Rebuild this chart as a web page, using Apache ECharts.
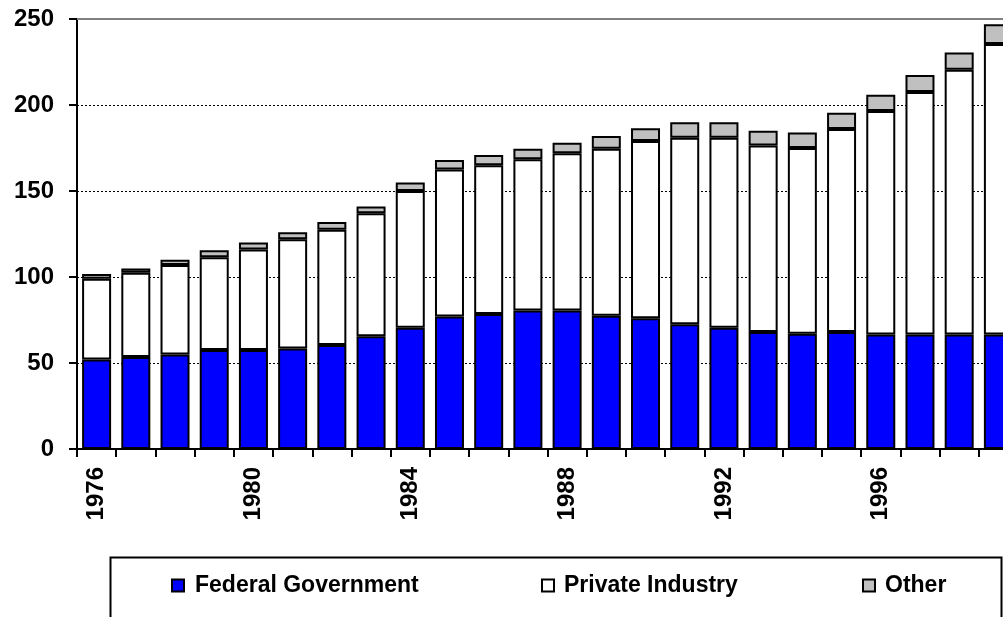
<!DOCTYPE html>
<html>
<head>
<meta charset="utf-8">
<script src="https://cdn.jsdelivr.net/npm/echarts@6/dist/echarts.min.js"></script>
<style>
  html, body { margin: 0; padding: 0; background: #fff; overflow: hidden; width: 1003px; height: 617px; }
  #chart { width: 1018px; height: 617px; }
</style>
</head>
<body>
<div id="chart"></div>
<script>
const years = ['1976','1977','1978','1979','1980','1981','1982','1983','1984','1985','1986','1987',
               '1988','1989','1990','1991','1992','1993','1994','1995','1996','1997','1998','1999'];
const federal = [52, 53.5, 55, 57.5, 57.5, 58.5, 60.5, 65.5, 70.5, 77, 78.5, 80.5,
                 80.5, 77.5, 76, 72.5, 70.5, 68, 67, 68, 66.5, 66.5, 66.5, 66.5];
const privateIndustry = [47, 49, 52, 54, 58.5, 63.5, 67, 71.5, 79.5, 85.5, 86.5, 88,
                         91.5, 97, 103, 108.5, 110.5, 108.5, 108, 118, 130, 141, 154, 169];
const other = [2.7, 2.5, 3, 4, 4, 4, 4.5, 4, 5, 5.5, 6, 6,
               6, 7.5, 7.5, 9, 9, 8.5, 9, 9.5, 9.5, 10, 10, 11.5];
const yTicks = [0, 50, 100, 150, 200, 250];

const FONT = "'Liberation Sans', Arial, sans-serif";
const chart = echarts.init(document.getElementById('chart'), null, { renderer: 'canvas' });

const barBorder = { borderColor: '#000', borderWidth: 2 };
const legendText = { fontSize: 23, fontWeight: 'bold', color: '#000', fontFamily: FONT };

const option = {
  animation: false,
  textStyle: { fontFamily: FONT },
  grid: { left: 77, top: 19, right: 0, bottom: 168, containLabel: false },
  xAxis: {
    type: 'category',
    data: years,
    boundaryGap: true,
    axisLine: { lineStyle: { color: '#000', width: 2 } },
    axisTick: { show: true, alignWithLabel: false, interval: 0, length: 8, lineStyle: { color: '#000', width: 2 } },
    axisLabel: {
      interval: 3, rotate: 90, margin: 18,
      fontSize: 24, fontWeight: 'bold', color: '#000', fontFamily: FONT
    },
    splitLine: { show: false }
  },
  yAxis: {
    type: 'value',
    min: yTicks[0], max: yTicks[yTicks.length - 1], interval: 50,
    axisLine: { show: true, lineStyle: { color: '#000', width: 2 } },
    axisTick: { show: true, length: 8, lineStyle: { color: '#000', width: 2 } },
    axisLabel: { margin: 23, fontSize: 24, fontWeight: 'bold', color: '#000', fontFamily: FONT },
    splitLine: { show: true, lineStyle: { color: '#000', width: 1, type: [2, 2] } }
  },
  legend: [
    { data: ['Federal Government'], icon: 'rect', left: 171, top: 574, padding: 0, itemWidth: 12, itemHeight: 12,
      textStyle: Object.assign({ padding: [0, 0, 0, 6] }, legendText) },
    { data: ['Private Industry'], icon: 'rect', left: 541, top: 574, padding: 0, itemWidth: 12, itemHeight: 12,
      textStyle: Object.assign({ padding: [0, 0, 0, 5] }, legendText) },
    { data: ['Other'], icon: 'rect', left: 862, top: 574, padding: 0, itemWidth: 12, itemHeight: 12,
      textStyle: Object.assign({ padding: [0, 0, 0, 5] }, legendText) }
  ],
  graphic: [
    { type: 'rect', left: 108, top: 555, silent: true,
      shape: { width: 891, height: 100 },
      style: { fill: 'none', stroke: '#000', lineWidth: 2 } }
  ],
  series: [
    { name: 'Federal Government', type: 'bar', stack: 'rd', data: federal, barWidth: 29,
      itemStyle: Object.assign({ color: '#0000FF' }, barBorder),
      markLine: {
        silent: true, symbol: 'none', label: { show: false },
        lineStyle: { color: '#808080', width: 2, type: 'solid' },
        data: [{ yAxis: yTicks[yTicks.length - 1] }]
      }
    },
    { name: 'Private Industry', type: 'bar', stack: 'rd', data: privateIndustry, barWidth: 29,
      itemStyle: Object.assign({ color: '#FFFFFF' }, barBorder) },
    { name: 'Other', type: 'bar', stack: 'rd', data: other, barWidth: 29,
      itemStyle: Object.assign({ color: '#C0C0C0' }, barBorder) }
  ]
};
chart.setOption(option);
</script>
</body>
</html>
